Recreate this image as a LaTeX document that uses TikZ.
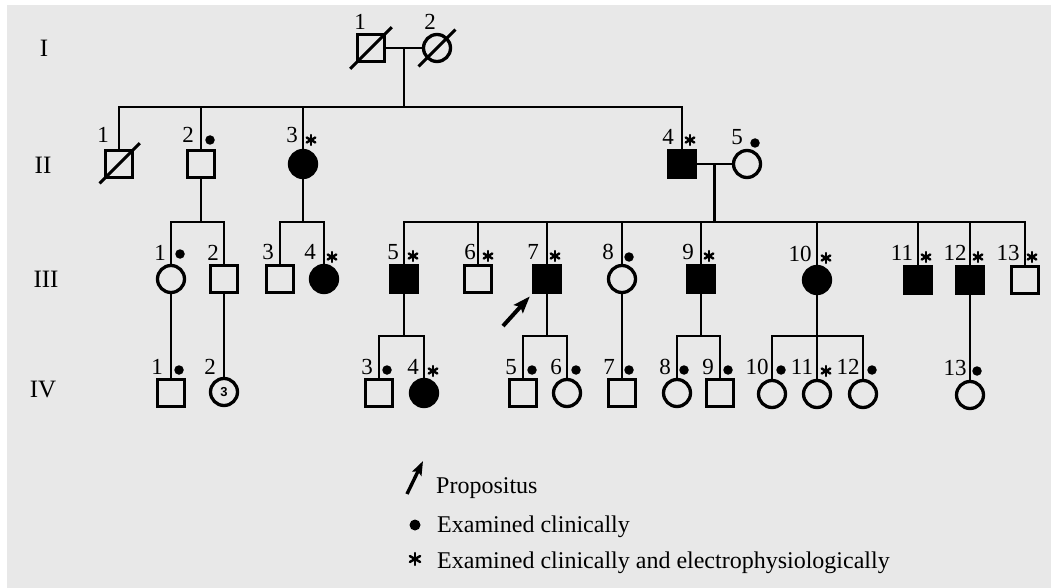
\documentclass[tikz,border=0pt]{standalone}
\usepackage{fontspec}
\setmainfont{Liberation Serif}
\setsansfont{Liberation Sans}
\usepackage{xcolor}
\definecolor{paper}{RGB}{232,232,232}
\usepackage{tikz}
\usetikzlibrary{positioning, arrows.meta, calc}
\tikzstyle{sym} = [
    inner sep=0pt,
    minimum size=27pt,
    line width=3.3pt,
    draw=black,
]
\tikzstyle{male} = [sym, rectangle]
\tikzstyle{female} = [sym, circle]
\tikzstyle{aff} = [fill=black]
\tikzstyle{link} = [line width=2.5pt, line cap=rect]
\tikzstyle{dead} = [line width=3pt]
\tikzstyle{num} = [inner sep=0pt, font=\fontsize{23}{23}\selectfont]
\tikzstyle{gen} = [inner sep=0pt, font=\fontsize{25}{25}\selectfont]
\tikzstyle{keytext} = [anchor=base west, inner sep=0pt, font=\fontsize{24}{24}\selectfont]
\tikzstyle{exdot} = [circle, fill=black, inner sep=0pt, minimum size=9.5pt]
\tikzset{
    exstar/.style={
        inner sep=0pt, minimum size=#1*2pt+5pt,
        path picture={
            \foreach \a in {90,150,...,390}
                \draw[line width=2.4pt, line cap=round]
                    (path picture bounding box.center) -- ++(\a:#1pt);
        }
    },
    exstar/.default=5
}
\tikzstyle{pointer} = [-{Stealth[length=17pt,width=12pt,inset=3pt]}, line width=4pt]

\begin{document}
\begin{tikzpicture}[x=1pt, y=-1pt]
    \fill[white] (0,0) rectangle (1051,588);
    \fill[paper] (7,5) rectangle (1051,588);
    \useasboundingbox (0,0) rectangle (1051,588);

    % generations
    \node[gen] (genI) at (44,48) {I};
    \node[gen] (genII) at (43,165) {II};
    \node[gen] (genIII) at (46,279) {III};
    \node[gen] (genIV) at (43,390) {IV};

    % generation I and II
    \node[male] (I1) at (371,48) {};
    \node[female] (I2) at (437,48) {};
    \node[male] (II1) at (119,164) {};
    \node[male] (II2) at (201,164) {};
    \node[female, aff] (II3) at (303,164) {};
    \node[male, aff] (II4) at (682,164) {};
    \node[female] (II5) at (747,164) {};

    % generation III
    \node[female] (III1) at (171,279) {};
    \node[male] (III2) at (224,279) {};
    \node[male] (III3) at (280,279) {};
    \node[female, aff] (III4) at (324,279) {};
    \node[male, aff] (III5) at (404,279) {};
    \node[male] (III6) at (478,279) {};
    \node[male, aff] (III7) at (547,279) {};
    \node[female] (III8) at (622,279) {};
    \node[male, aff] (III9) at (701,279) {};
    \node[female, aff] (III10) at (817,280) {};
    \node[male, aff] (III11) at (918,280) {};
    \node[male, aff] (III12) at (970,280) {};
    \node[male] (III13) at (1025,280) {};

    % generation IV
    \node[male] (IV1) at (171,393) {};
    \node[female] (IV2) at (224,392) {\sffamily\bfseries\fontsize{13}{13}\selectfont 3};
    \node[male] (IV3) at (379,393) {};
    \node[female, aff] (IV4) at (424,393) {};
    \node[male] (IV5) at (523,393) {};
    \node[female] (IV6) at (567,393) {};
    \node[male] (IV7) at (622,393) {};
    \node[female] (IV8) at (677,393) {};
    \node[male] (IV9) at (720,393) {};
    \node[female] (IV10) at (772,394) {};
    \node[female] (IV11) at (817,394) {};
    \node[female] (IV12) at (863,394) {};
    \node[female] (IV13) at (970,395) {};

    % deceased
    \draw[dead, shorten <=-8pt, shorten >=-8pt] (I1.south west) -- (I1.north east);
    \draw[dead, shorten <=-11pt, shorten >=-11pt] (I2.225) -- (I2.45);
    \draw[dead, shorten <=-6pt, shorten >=-8pt] (II1.south west) -- (II1.north east);

    % sibship levels
    \coordinate (sibII) at (0,107);
    \coordinate (sibIII) at (0,222);
    \coordinate (sibIV) at (0,336);

    % I -> II
    \draw[link] (I1) -- (I2);
    \coordinate (cI) at ($(I1.east)!.5!(I2.west)$);
    \draw[link] (cI) -- (cI |- sibII);
    \draw[link] (II1.north |- sibII) -- (II4.north |- sibII);
    \foreach \c in {II1,II2,II3,II4} {
        \draw[link] (\c.north) -- (\c.north |- sibII);
    }

    % II -> III
    \draw[link] (II2.south) -- (II2.south |- sibIII);
    \draw[link] (III1.north |- sibIII) -- (III2.north |- sibIII);
    \draw[link] (II3.south) -- (II3.south |- sibIII);
    \draw[link] (III3.north |- sibIII) -- (III4.north |- sibIII);
    \draw[link] (II4) -- (II5);
    \coordinate (cII) at ($(II4.east)!.5!(II5.west)$);
    \draw[link] (cII) -- (cII |- sibIII);
    \draw[link] (III5.north |- sibIII) -- (III13.north |- sibIII);
    \foreach \c in {III1,III2,III3,III4,III5,III6,III7,III8,III9,III10,III11,III12,III13} {
        \draw[link] (\c.north) -- (\c.north |- sibIII);
    }

    % III -> IV
    \draw[link] (III1) -- (IV1);
    \draw[link] (III2) -- (IV2);
    \draw[link] (III8) -- (IV7);
    \draw[link] (III12) -- (IV13);
    \foreach \p/\a/\b in {III5/IV3/IV4, III7/IV5/IV6, III9/IV8/IV9, III10/IV10/IV12} {
        \draw[link] (\p.south) -- (\p.south |- sibIV);
        \draw[link] (\a.north |- sibIV) -- (\b.north |- sibIV);
        \draw[link] (\a.north) -- (\a.north |- sibIV);
        \draw[link] (\b.north) -- (\b.north |- sibIV);
    }
    \draw[link] (IV11.north) -- (IV11.north |- sibIV);

    % numbers
    \foreach \id/\t/\x/\y in {
        I1/1/360/22, I2/2/430/22,
        II1/1/103/135, II2/2/188/135, II3/3/292/135, II4/4/668/137, II5/5/737/137,
        III1/1/160/253, III2/2/213/253, III3/3/268/252, III4/4/310/252,
        III5/5/393/252, III6/6/470/252, III7/7/533/252, III8/8/608/252,
        III9/9/688/252, III10/10/800/254, III11/11/902/253, III12/12/955/253,
        III13/13/1008/253,
        IV1/1/157/367, IV2/2/210/367, IV3/3/367/367, IV4/4/413/367,
        IV5/5/511/367, IV6/6/556/367, IV7/7/609/367, IV8/8/665/367,
        IV9/9/708/367, IV10/10/757/367, IV11/11/802/367, IV12/12/848/367,
        IV13/13/955/368} {
        \node[num] (lab\id) at (\x,\y) {\t};
    }

    % examined clinically
    \foreach \id/\x/\y in {
        II2/210/140, II5/755/143,
        III1/180/254, III8/629/257,
        IV1/179/370, IV3/387/370, IV5/532/370, IV6/576/370, IV7/629/370,
        IV8/684/370, IV9/728/370, IV10/781/370, IV12/872/370, IV13/977/371} {
        \node[exdot] (dot\id) at (\x,\y) {};
    }

    % examined clinically and electrophysiologically
    \foreach \id/\x/\y in {
        II3/311/140, II4/690/140,
        III4/332/257, III5/413/256, III6/488/256, III7/555/256, III9/709/256,
        III10/826/258, III11/926/257, III12/978/257, III13/1032/257,
        IV4/433/371, IV11/826/371} {
        \node[exstar] (star\id) at (\x,\y) {};
    }

    % propositus
    \coordinate (propfoot) at (503,326);
    \draw[pointer, shorten >=3pt] (propfoot) -- (III7.south west);

    % key
    \coordinate (keyfoot) at (407,494);
    \coordinate (keytip) at (423,461);
    \draw[pointer, line width=3.4pt, -{Stealth[length=14pt,width=10pt,inset=2.5pt]}] (keyfoot) -- (keytip);
    \node[keytext] (keyprop) at (436,493) {Propositus};
    \node[exdot, minimum size=11pt] (keydot) at (415,525) {};
    \node[keytext] (keyclin) at (437,532) {Examined clinically};
    \node[exstar=6] (keystar) at (415,559) {};
    \node[keytext] (keyelec) at (437,568) {Examined clinically and electrophysiologically};
\end{tikzpicture}
\end{document}
